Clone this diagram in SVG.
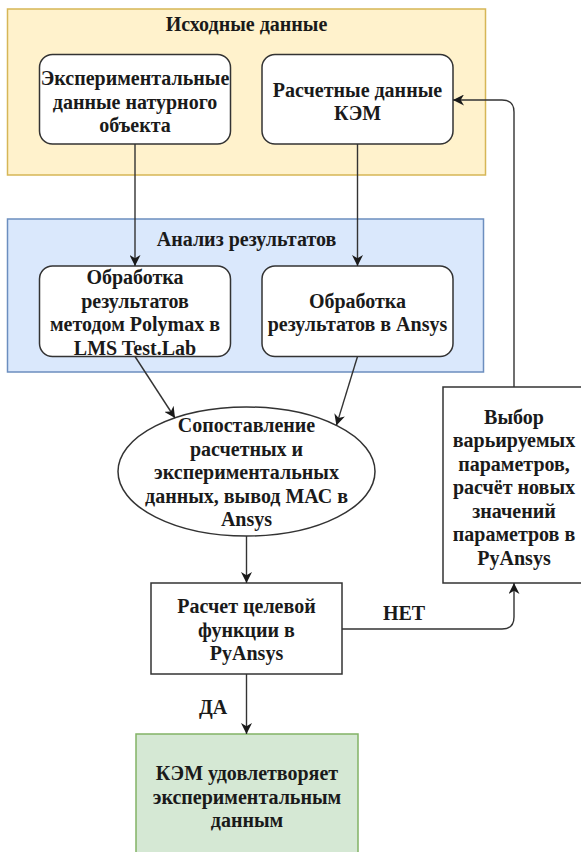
<svg xmlns="http://www.w3.org/2000/svg" width="581" height="852" viewBox="0 0 581 852">
<style>
.t{font-family:'Liberation Serif','Times New Roman','DejaVu Serif',serif;font-weight:700;font-size:20px;fill:#1a1a1a;text-anchor:middle;dominant-baseline:central}
.box{fill:#ffffff;stroke:#333333;stroke-width:1.5}
.edge{fill:none;stroke:#333333;stroke-width:1.4}
</style>
<defs>
<marker id="arr" viewBox="0 0 10 10" refX="10" refY="5" markerWidth="11" markerHeight="11" markerUnits="userSpaceOnUse" orient="auto">
<path d="M0,0 L10,5 L0,10 L3,5 Z" fill="#1a1a1a"/>
</marker>
</defs>
<g id="group-source">
<rect x="7.5" y="9" width="478" height="166" fill="#fff2cc" stroke="#d6b656" stroke-width="1.5"/>
<text class="t" x="246.5" y="24">Исходные данные</text>
</g>
<g id="group-analysis">
<rect x="7.5" y="219" width="476" height="153" fill="#dae8fc" stroke="#6c8ebf" stroke-width="1.5"/>
<text class="t" x="246.5" y="239">Анализ результатов</text>
</g>
<g id="exp-data">
<rect class="box" x="39.5" y="54.5" width="191" height="89.5" rx="13"/>
<text class="t" x="135" y="78">Экспериментальные</text>
<text class="t" x="135" y="101.5">данные натурного</text>
<text class="t" x="135" y="125">объекта</text>
</g>
<g id="calc-data">
<rect class="box" x="262" y="54.5" width="191" height="89.5" rx="13"/>
<text class="t" x="357.5" y="89.5">Расчетные данные</text>
<text class="t" x="357.5" y="113">КЭМ</text>
</g>
<g id="proc-lms">
<rect class="box" x="39.5" y="266" width="191" height="90.5" rx="13"/>
<text class="t" x="135" y="277">Обработка</text>
<text class="t" x="135" y="300.5">результатов</text>
<text class="t" x="135" y="324">методом Polymax в</text>
<text class="t" x="135" y="347.5">LMS Test.Lab</text>
</g>
<g id="proc-ansys">
<rect class="box" x="262" y="266" width="191" height="90.5" rx="13"/>
<text class="t" x="357.5" y="300.5">Обработка</text>
<text class="t" x="357.5" y="324">результатов в Ansys</text>
</g>
<g id="compare">
<ellipse class="box" cx="246.5" cy="471.5" rx="128.5" ry="64.5"/>
<text class="t" x="246.5" y="425">Сопоставление</text>
<text class="t" x="246.5" y="448.5">расчетных и</text>
<text class="t" x="246.5" y="472">экспериментальных</text>
<text class="t" x="246.5" y="495.5">данных, вывод МАС в</text>
<text class="t" x="246.5" y="519">Ansys</text>
</g>
<g id="objective">
<rect class="box" x="151" y="583" width="191" height="91"/>
<text class="t" x="246.5" y="606">Расчет целевой</text>
<text class="t" x="246.5" y="629.5">функции в</text>
<text class="t" x="246.5" y="653">PyAnsys</text>
</g>
<g id="params">
<rect class="box" x="443" y="387" width="142" height="196"/>
<text class="t" x="514" y="416.5">Выбор</text>
<text class="t" x="514" y="440">варьируемых</text>
<text class="t" x="514" y="463.5">параметров,</text>
<text class="t" x="514" y="487">расчёт новых</text>
<text class="t" x="514" y="510.5">значений</text>
<text class="t" x="514" y="534">параметров в</text>
<text class="t" x="514" y="557.5">PyAnsys</text>
</g>
<g id="result">
<rect x="136" y="734" width="222" height="126" fill="#d5e8d4" stroke="#82b366" stroke-width="1.5"/>
<text class="t" x="247" y="773">КЭМ удовлетворяет</text>
<text class="t" x="247" y="796.5">экспериментальным</text>
<text class="t" x="247" y="820">данным</text>
</g>
<g id="connectors">
<path class="edge" d="M135,144 L135,266" marker-end="url(#arr)"/>
<path class="edge" d="M357.5,144 L357.5,266" marker-end="url(#arr)"/>
<path class="edge" d="M135,356.5 L175,418" marker-end="url(#arr)"/>
<path class="edge" d="M357.5,356.5 L336.4,425.4" marker-end="url(#arr)"/>
<path class="edge" d="M246.5,536 L246.5,583" marker-end="url(#arr)"/>
<path class="edge" d="M342,629 L502,629 Q514,629 514,617 L514,583" marker-end="url(#arr)"/>
<path class="edge" d="M514,387 L514,112 Q514,100 502,100 L453,100" marker-end="url(#arr)"/>
<path class="edge" d="M246.5,674 L246.5,734" marker-end="url(#arr)"/>
<text class="t" x="404" y="613">НЕТ</text>
<text class="t" x="213" y="707">ДА</text>
</g>
</svg>
